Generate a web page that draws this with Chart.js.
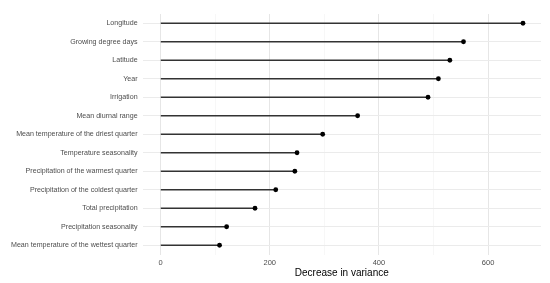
<!DOCTYPE html>
<html>
<head>
<meta charset="utf-8">
<script src="https://cdn.jsdelivr.net/npm/chart.js@4"></script>
<style>
  html, body { margin: 0; padding: 0; background: #fff; }
  #wrap { width: 550px; height: 283px; }
</style>
</head>
<body>
<div id="wrap"><canvas id="importanceChart"></canvas></div>
<script>
const variables = [
    'Longitude',
    'Growing degree days',
    'Latitude',
    'Year',
    'Irrigation',
    'Mean diurnal range',
    'Mean temperature of the driest quarter',
    'Temperature seasonality',
    'Precipitation of the warmest quarter',
    'Precipitation of the coldest quarter',
    'Total precipitation',
    'Precipitation seasonality',
    'Mean temperature of the wettest quarter'
];
const decreaseInVariance = [664, 555, 530, 509, 490, 361, 297, 250, 246, 211, 173, 121, 108];
const xTicks = [0, 100, 200, 300, 400, 500, 600];
const xLabelTicks = [0, 200, 400, 600];

const ctx = document.getElementById('importanceChart').getContext('2d');
new Chart(ctx, {
    type: 'bar',
    data: {
        labels: variables,
        datasets: [{
            type: 'bar',
            data: decreaseInVariance,
            backgroundColor: '#333333',
            barThickness: 1,
            order: 2
        }, {
            type: 'line',
            data: decreaseInVariance,
            showLine: false,
            pointRadius: 2.4,
            pointBackgroundColor: '#000000',
            pointBorderWidth: 0,
            order: 1
        }]
    },
    options: {
        indexAxis: 'y',
        responsive: true,
        maintainAspectRatio: false,
        animation: false,
        layout: {
            padding: { top: 14, right: 9, left: 6, bottom: 5 }
        },
        plugins: {
            legend: { display: false },
            tooltip: { enabled: false }
        },
        scales: {
            x: {
                min: -33,
                max: 697,
                afterBuildTicks: function (scale) {
                    scale.ticks = xTicks.map(v => ({ value: v }));
                },
                border: { display: false },
                grid: {
                    drawTicks: false,
                    color: function (c) {
                        return xLabelTicks.includes(c.tick.value) ? '#e6e6e6' : '#f2f2f2';
                    },
                    lineWidth: function (c) {
                        return xLabelTicks.includes(c.tick.value) ? 1 : 0.6;
                    }
                },
                ticks: {
                    padding: 5,
                    color: '#4d4d4d',
                    font: { family: 'Liberation Sans', size: 7.5, lineHeight: 1 },
                    maxRotation: 0,
                    callback: function (value) {
                        return xLabelTicks.includes(value) ? value : '';
                    }
                },
                title: {
                    display: true,
                    text: 'Decrease in variance',
                    color: '#000000',
                    font: { family: 'Liberation Sans', size: 10, lineHeight: 1 },
                    padding: { top: -4, bottom: 0 }
                }
            },
            y: {
                border: { display: false },
                grid: {
                    offset: false,
                    drawTicks: false,
                    color: '#ebebeb'
                },
                ticks: {
                    padding: 5,
                    color: '#4d4d4d',
                    font: { family: 'Liberation Sans', size: 7.1 }
                }
            }
        }
    }
});
</script>
</body>
</html>
